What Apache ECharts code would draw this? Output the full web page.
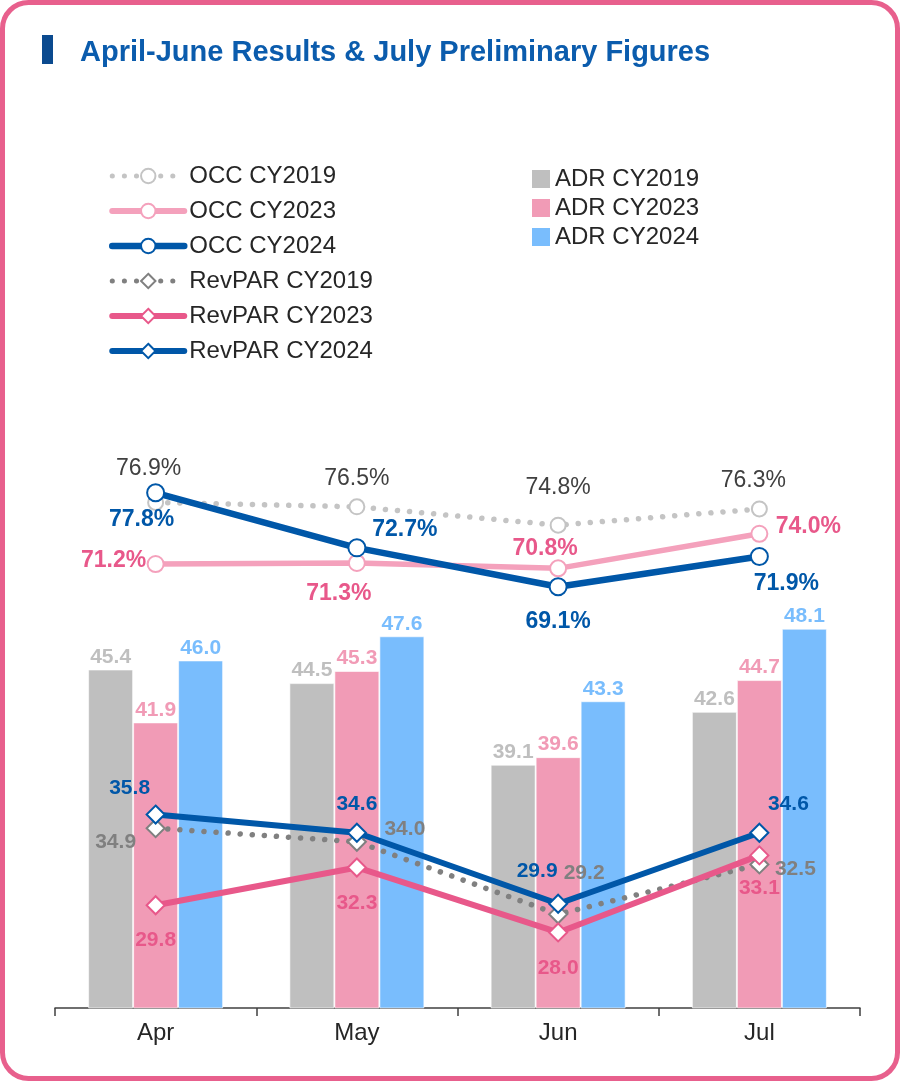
<!DOCTYPE html>
<html>
<head>
<meta charset="utf-8">
<script src="https://cdn.jsdelivr.net/npm/echarts@6/dist/echarts.min.js"></script>
<style>
  html, body { margin: 0; padding: 0; background: #fff; }
  #chart { width: 900px; height: 1081px; }
</style>
</head>
<body>
<div id="chart"></div>
<script>
// months on the x axis
const months = ['Apr', 'May', 'Jun', 'Jul']

// ADR (bars)
const adr2019 = [45.4, 44.5, 39.1, 42.6]
const adr2023 = [41.9, 45.3, 39.6, 44.7]
const adr2024 = [46.0, 47.6, 43.3, 48.1]

// occupancy rate, %
const occ2019 = [76.9, 76.5, 74.8, 76.3]
const occ2023 = [71.2, 71.3, 70.8, 74.0]
const occ2024 = [77.8, 72.7, 69.1, 71.9]

// RevPAR
const rev2019 = [34.9, 34.0, 29.2, 32.5]
const rev2023 = [29.8, 32.3, 28.0, 33.1]
const rev2024 = [35.8, 34.6, 29.9, 34.6]

const FONT = '"Liberation Sans", Arial, sans-serif'
const PINK = '#e8588a'
const BLUE = '#0057a8'
const DOTS = [0.1, 12]

// where each line label sits relative to its marker
const labelOffsets = {
  occ2019: [[-7, -34], [0, -28], [0, -38], [-6, -28]],
  occ2023: [[-42, -3], [-18, 31], [-13, -20], [49, -7]],
  occ2024: [[-14, 27], [48, -18], [0, 35], [27, 27]],
  rev2019: [[-40, 14], [48, -13], [26, -41], [36, 5]],
  rev2023: [[0, 35], [0, 36], [0, 36], [0, 33]],
  rev2024: [[-26, -26], [0, -29], [-21, -33], [29, -29]]
}

function withLabels(values, offsets) {
  return values.map((v, i) => ({ value: v, label: { offset: offsets[i] } }))
}

function barSeries(name, values, color) {
  return {
    name: name,
    type: 'bar',
    xAxisIndex: 0,
    yAxisIndex: 0,
    barWidth: 45,
    barGap: '0%',
    z: 1,
    itemStyle: { color: color, borderColor: 'rgba(255,255,255,0.6)', borderWidth: 1 },
    label: {
      show: true,
      position: 'top',
      distance: 2,
      color: color,
      fontSize: 21,
      fontWeight: 'bold',
      fontFamily: FONT,
      formatter: p => p.value.toFixed(1)
    },
    emphasis: { disabled: true },
    data: values
  }
}

function lineSeries(name, values, opts) {
  return {
    name: name,
    type: 'line',
    xAxisIndex: opts.axis,
    yAxisIndex: opts.axis,
    z: opts.z,
    symbol: opts.symbol,
    symbolSize: opts.symbolSize,
    showAllSymbol: true,
    lineStyle: {
      color: opts.color,
      width: opts.width,
      type: opts.dotted ? DOTS : 'solid',
      cap: 'round'
    },
    itemStyle: { color: '#fff', borderColor: opts.color, borderWidth: 2 },
    label: {
      show: true,
      position: 'inside',
      color: opts.labelColor,
      fontSize: opts.fontSize,
      fontWeight: opts.bold ? 'bold' : 'normal',
      fontFamily: FONT,
      formatter: p => p.value.toFixed(1) + opts.suffix
    },
    emphasis: { disabled: true },
    data: withLabels(values, opts.offsets)
  }
}

function legendLine(name, width, dotted) {
  return { name: name, lineStyle: { width: width, type: dotted ? DOTS : 'solid', cap: 'round' } }
}

const chart = echarts.init(document.getElementById('chart'))

const option = {
  animation: false,
  backgroundColor: '#fff',
  textStyle: { fontFamily: FONT },
  title: {
    text: 'April-June Results & July Preliminary Figures',
    left: 75,
    top: 33,
    textStyle: { color: '#0b5cad', fontSize: 29, fontWeight: 'bold', fontFamily: FONT }
  },
  graphic: [
    {
      type: 'rect',
      shape: { x: 2.5, y: 2.5, width: 895, height: 1076, r: 26 },
      style: { fill: 'none', stroke: '#e8608d', lineWidth: 5 },
      silent: true
    },
    {
      type: 'rect',
      shape: { x: 42, y: 35, width: 11, height: 29 },
      style: { fill: '#0b4a8f' },
      silent: true
    }
  ],
  legend: [
    {
      orient: 'vertical',
      left: 104,
      top: 159,
      itemWidth: 72,
      itemHeight: 18,
      itemGap: 11,
      textStyle: { fontSize: 24, color: '#262626', fontFamily: FONT, lineHeight: 24 },
      data: [
        legendLine('OCC CY2019', 5, true),
        legendLine('OCC CY2023', 6, false),
        legendLine('OCC CY2024', 6.5, false),
        legendLine('RevPAR CY2019', 5, true),
        legendLine('RevPAR CY2023', 6, false),
        legendLine('RevPAR CY2024', 6, false)
      ]
    },
    {
      orient: 'vertical',
      left: 527,
      top: 162,
      icon: 'rect',
      itemWidth: 18,
      itemHeight: 18,
      itemGap: 5,
      itemStyle: { borderWidth: 0 },
      textStyle: { fontSize: 24, color: '#262626', fontFamily: FONT, lineHeight: 24 },
      data: ['ADR CY2019', 'ADR CY2023', 'ADR CY2024']
    }
  ],
  grid: [
    { left: 55, right: 40, top: 600, bottom: 73 },
    { left: 55, right: 40, top: 361, height: 324 }
  ],
  xAxis: [
    {
      type: 'category',
      gridIndex: 0,
      data: months,
      axisLine: { lineStyle: { color: '#404040', width: 1.5 } },
      axisTick: { show: true, alignWithLabel: false, length: 8, lineStyle: { color: '#404040', width: 1.5 } },
      axisLabel: { fontSize: 24, color: '#262626', margin: 13, fontFamily: FONT }
    },
    { type: 'category', gridIndex: 1, data: months, show: false }
  ],
  yAxis: [
    { type: 'value', gridIndex: 0, min: 23, max: 50, show: false },
    { type: 'value', gridIndex: 1, min: 60, max: 90, show: false }
  ],
  series: [
    barSeries('ADR CY2019', adr2019, '#bfbfbf'),
    barSeries('ADR CY2023', adr2023, '#f19bb6'),
    barSeries('ADR CY2024', adr2024, '#79bdfd'),
    lineSeries('OCC CY2019', occ2019, {
      axis: 1, z: 3, symbol: 'circle', symbolSize: 15, color: '#c4c4c4', width: 5.5, dotted: true,
      labelColor: '#404040', fontSize: 23, bold: false, suffix: '%', offsets: labelOffsets.occ2019
    }),
    lineSeries('OCC CY2023', occ2023, {
      axis: 1, z: 4, symbol: 'circle', symbolSize: 16, color: '#f4a1bc', width: 5.5,
      labelColor: PINK, fontSize: 23, bold: true, suffix: '%', offsets: labelOffsets.occ2023
    }),
    lineSeries('OCC CY2024', occ2024, {
      axis: 1, z: 5, symbol: 'circle', symbolSize: 17, color: BLUE, width: 6.5,
      labelColor: BLUE, fontSize: 23, bold: true, suffix: '%', offsets: labelOffsets.occ2024
    }),
    lineSeries('RevPAR CY2019', rev2019, {
      axis: 0, z: 3, symbol: 'diamond', symbolSize: 18, color: '#808080', width: 5.5, dotted: true,
      labelColor: '#808080', fontSize: 21, bold: true, suffix: '', offsets: labelOffsets.rev2019
    }),
    lineSeries('RevPAR CY2023', rev2023, {
      axis: 0, z: 4, symbol: 'diamond', symbolSize: 18, color: PINK, width: 6,
      labelColor: PINK, fontSize: 21, bold: true, suffix: '', offsets: labelOffsets.rev2023
    }),
    lineSeries('RevPAR CY2024', rev2024, {
      axis: 0, z: 5, symbol: 'diamond', symbolSize: 18, color: BLUE, width: 6,
      labelColor: BLUE, fontSize: 21, bold: true, suffix: '', offsets: labelOffsets.rev2024
    })
  ]
}

chart.setOption(option)
</script>
</body>
</html>
